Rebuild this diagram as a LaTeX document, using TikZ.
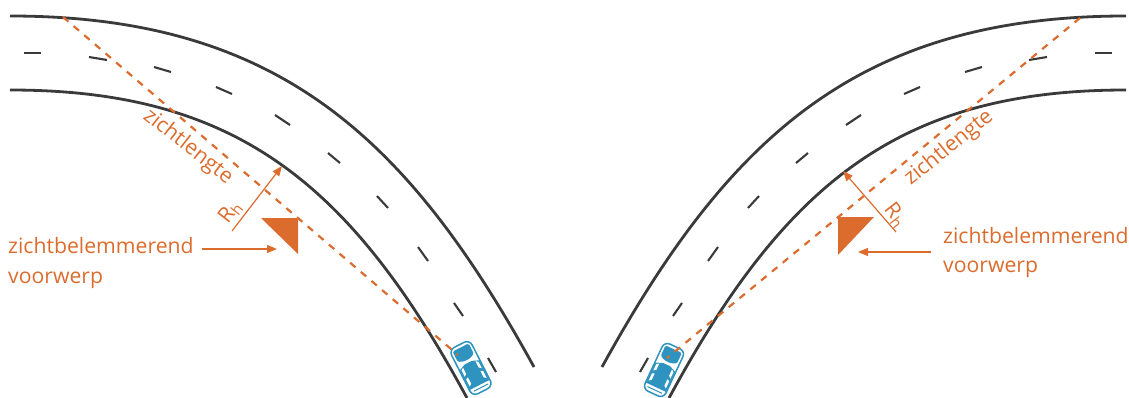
\documentclass[tikz,border=0pt]{standalone}
\usepackage{fontspec}
\setmainfont{Open Sans}
\usetikzlibrary{arrows.meta}
\definecolor{oranje}{HTML}{DC6C2E}
\definecolor{wegkleur}{HTML}{3A3A3A}
\definecolor{autoblauw}{HTML}{2E94BF}
\tikzset{
  roadedge/.style={draw=wegkleur,line width=2.8pt},
  lanedash/.style={draw=wegkleur,line width=2.1pt},
  sightline/.style={draw=oranje,line width=2.2pt,dash pattern=on 7pt off 7pt},
  pointer/.style={draw=oranje,line width=1.2pt,-{Triangle[length=10pt,width=8pt]}},
  obstacle/.style={fill=oranje},
  label/.style={text=oranje,font=\fontsize{21.2}{25}\selectfont,inner sep=0pt},
  carbody/.style={fill=autoblauw},
  carline/.style={draw=autoblauw,line width=1.5pt}
}
\newcommand{\halfroad}{%
  \draw[roadedge] (10,16) .. controls (280,16) and (409,140) .. (534,367);
  \draw[roadedge] (10,90) .. controls (235,90) and (350,182) .. (467,398);
  \foreach \xa/\ya/\xb/\yb in {24/53/41/53, 89/57/107/60, 154/67/171/72, 216/87/232/94, 275/115/290/125, 328/153/340/163, 377/196/388/208, 418/247/428/261, 454/303/463/316, 488/358/496/372}
    \draw[lanedash] (\xa,\ya) -- (\xb,\yb);
}
\newcommand{\carshape}{%
  \fill[white,rounded corners=6pt] (-11.5,-26) -- (11.5,-26) -- (11.5,26) -- (-11.5,26) -- cycle;
  \fill[carbody] (-11,-3) -- (-4,-6) -- (4,-6) -- (11,-3) -- (11,19) -- (-11,19) -- cycle;
  \draw[carline] (-11.5,-26) [rounded corners=6pt] -- (11.5,-26) -- (11.5,26) -- (-11.5,26) -- cycle;
  \fill[carbody,rounded corners=1.5pt] (-9,-23) -- (9,-23) -- (9,-11.5) -- (3.5,-9) -- (-3.5,-9) -- (-9,-11.5) -- cycle;
  \fill[white] (-9.5,-2) -- (-7,-4) -- (-7,3) -- (-9.5,5) -- cycle;
  \fill[white] (9.5,-2) -- (7,-4) -- (7,3) -- (9.5,5) -- cycle;
  \fill[white] (-9.5,8) -- (-7,7) -- (-7,14) -- (-9.5,16) -- cycle;
  \fill[white] (9.5,8) -- (7,7) -- (7,14) -- (9.5,16) -- cycle;
  \draw[carline,line width=1pt] (-8,22) -- (8,22);
}
\begin{document}
\begin{tikzpicture}[x=1pt,y=-1pt]
\useasboundingbox (0,0) rectangle (1129,398);
% left half
\halfroad
\begin{scope}[shift={(471,368)},rotate=27]\carshape\end{scope}
\coordinate (Lsa) at (63,17);
\coordinate (Lsb) at (458,355);
\draw[sightline] (Lsa) -- (Lsb);
\coordinate (Lt1) at (261,218);
\coordinate (Lt2) at (298,218);
\coordinate (Lt3) at (298,254);
\fill[obstacle] (Lt1) -- (Lt2) -- (Lt3) -- cycle;
\coordinate (Lra) at (232,231);
\coordinate (Lrb) at (282,166);
\draw[pointer] (Lra) -- (Lrb);
\coordinate (Lpa) at (202,249);
\coordinate (Lpb) at (277,249);
\draw[pointer] (Lpa) -- (Lpb);
\node[label,anchor=base west] (Lobj1) at (8,253) {zichtbelemmerend};
\node[label,anchor=base west] (Lobj2) at (8,283) {voorwerp};
\node[label,rotate=-38] (Lzicht) at (188,147) {zichtlengte};
\node[label,rotate=52] (Lrh) at (230,212) {R\raisebox{-3pt}{\fontsize{15}{15}\selectfont h}};
% right half
\begin{scope}[xshift=1136pt,xscale=-1]\halfroad\end{scope}
\begin{scope}[shift={(664,370)},rotate=-25]\carshape\end{scope}
\coordinate (Rsa) at (1080,18);
\coordinate (Rsb) at (667,358);
\draw[sightline] (Rsa) -- (Rsb);
\coordinate (Rt1) at (838,217);
\coordinate (Rt2) at (874,217);
\coordinate (Rt3) at (838,255);
\fill[obstacle] (Rt1) -- (Rt2) -- (Rt3) -- cycle;
\coordinate (Rra) at (896,232);
\coordinate (Rrb) at (843,171);
\draw[pointer] (Rra) -- (Rrb);
\coordinate (Rpa) at (931,252);
\coordinate (Rpb) at (858,252);
\draw[pointer] (Rpa) -- (Rpb);
\node[label,anchor=base west] (Robj1) at (943,243) {zichtbelemmerend};
\node[label,anchor=base west] (Robj2) at (943,272) {voorwerp};
\node[label,rotate=39] (Rzicht) at (949,148) {zichtlengte};
\node[label,rotate=-52] (Rrh) at (895,215) {R\raisebox{-3pt}{\fontsize{15}{15}\selectfont h}};
\end{tikzpicture}
\end{document}
